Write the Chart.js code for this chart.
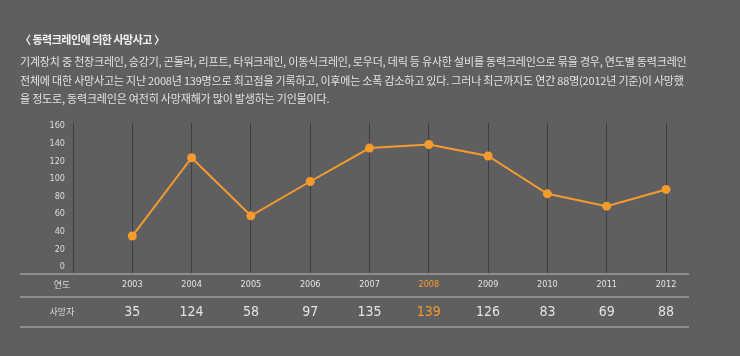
<!DOCTYPE html>
<html>
<head>
<meta charset="utf-8">
<script src="https://cdn.jsdelivr.net/npm/chart.js@4"></script>
<style>
  html, body { margin:0; padding:0; background:#5f5f61; }
  #wrap { position:relative; width:740px; height:356px; overflow:hidden; background:#5f5f61; }
  #chart { position:absolute; left:0; top:0; }
  .txt { position:absolute; left:20px; font-family:"Noto Sans CJK KR","Noto Sans",sans-serif; color:#e2e2e2; white-space:nowrap; }
  #title { top:31px; font-size:11px; font-weight:bold; letter-spacing:-0.5px; color:#f0f0f0; }
  .body { font-size:11px; letter-spacing:-0.2px; }
</style>
</head>
<body>
<div id="wrap">
  <canvas id="chart" width="740" height="356"></canvas>
  <div id="title" class="txt">〈 동력크레인에 의한 사망사고 〉</div>
  <div class="txt body" style="top:53px">기계장치 중 천장크레인, 승강기, 곤돌라, 리프트, 타워크레인, 이동식크레인, 로우더, 데릭 등 유사한 설비를 동력크레인으로 묶을 경우, 연도별 동력크레인</div>
  <div class="txt body" style="top:71.5px">전체에 대한 사망사고는 지난 2008년 139명으로 최고점을 기록하고, 이후에는 소폭 감소하고 있다. 그러나 최근까지도 연간 88명(2012년 기준)이 사망했</div>
  <div class="txt body" style="top:90px">을 정도로, 동력크레인은 여전히 사망재해가 많이 발생하는 기인물이다.</div>
</div>
<script>
const years = [2003, 2004, 2005, 2006, 2007, 2008, 2009, 2010, 2011, 2012];
const deaths = [35, 124, 58, 97, 135, 139, 126, 83, 69, 88];
const yTicks = [0, 20, 40, 60, 80, 100, 120, 140, 160];
const rowLabels = ['연도', '사망자'];
const highlightYear = 2008;

const ORANGE = '#f49b2c';
const condensed = '"Liberation Sans Narrow","DejaVu Sans Condensed","Liberation Sans",sans-serif';

const tablePlugin = {
  id: 'tablePlugin',
  afterDraw(chart) {
    const ctx = chart.ctx;
    const xs = chart.scales.x;
    const ca = chart.chartArea;
    const lineL = 20, lineR = 689;
    const yBase = ca.bottom + 1, yMid = 297, yBot = 327;
    const rowY1 = 285, rowY2 = 312;
    ctx.save();
    ctx.strokeStyle = '#8e8e90';
    ctx.lineWidth = 2;
    [yBase, yMid, yBot].forEach(y => {
      ctx.beginPath(); ctx.moveTo(lineL, y); ctx.lineTo(lineR, y); ctx.stroke();
    });
    ctx.textAlign = 'center';
    ctx.textBaseline = 'middle';
    ctx.fillStyle = '#dcdcdc';
    ctx.font = '9px "Noto Sans CJK KR",sans-serif';
    ctx.fillText(rowLabels[0], 62, rowY1);
    ctx.fillText(rowLabels[1], 62, rowY2);
    years.forEach((yr, i) => {
      const x = xs.getPixelForValue(yr);
      const hl = yr === highlightYear;
      ctx.fillStyle = hl ? ORANGE : '#e4e4e4';
      ctx.font = '9px ' + condensed;
      ctx.fillText(String(yr), x, rowY1);
      ctx.font = '14px ' + condensed;
      ctx.fillText(String(deaths[i]), x, rowY2);
    });
    ctx.restore();
  }
};

new Chart(document.getElementById('chart'), {
  type: 'line',
  data: {
    datasets: [{
      data: years.map((y, i) => ({ x: y, y: deaths[i] })),
      borderColor: ORANGE,
      backgroundColor: ORANGE,
      borderWidth: 2,
      pointRadius: 4.5,
      pointBorderWidth: 0,
      pointBackgroundColor: ORANGE,
      tension: 0,
      clip: false
    }]
  },
  options: {
    responsive: false,
    animation: false,
    events: [],
    layout: { padding: { left: 33, right: 74, top: 123, bottom: 83 } },
    plugins: { legend: { display: false }, tooltip: { enabled: false }, title: { display: false } },
    scales: {
      x: {
        type: 'linear',
        min: 2002,
        max: 2012,
        ticks: { display: false, stepSize: 1 },
        grid: { color: '#3e3e40', lineWidth: 1, drawTicks: false },
        border: { display: false }
      },
      y: {
        min: -7,
        max: 163.5,
        afterBuildTicks: s => { s.ticks = yTicks.map(v => ({ value: v })); },
        afterFit: s => { s.width = 40; },
        ticks: { color: '#dedede', font: { family: condensed, size: 9 }, padding: 8 },
        grid: { display: false, drawTicks: false },
        border: { display: false }
      }
    }
  },
  plugins: [tablePlugin]
});
</script>
</body>
</html>
